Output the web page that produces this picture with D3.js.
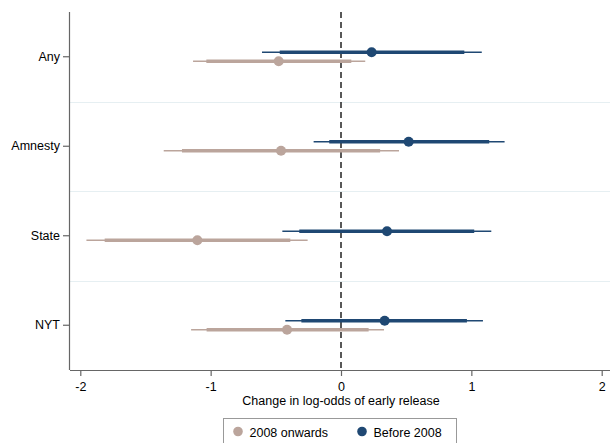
<!DOCTYPE html>
<html lang="en">
<head>
  <meta charset="UTF-8">
  <title>Coefficient plot</title>
  <style type="text/css">
    body{
      margin: 0;
      font-family: "Liberation Sans", Arial, sans-serif;
      background: white;
    }
    .axis text{
      font-size: 12.5px;
      fill: black;
    }
    .axis path,
    .axis line{
      stroke: #666;
      stroke-width: 1.2px;
    }
    .label{
      font-size: 12.5px;
      fill: black;
    }
  </style>
  <script type="text/javascript" src="https://d3js.org/d3.v7.min.js"></script>
</head>
<body>
<script type="text/javascript">
  var categories = ['Any', 'Amnesty', 'State', 'NYT'];
  var xTicks = [-2, -1, 0, 1, 2];

  // point estimates, inner (thick) and outer (thin) intervals
  var afterEst   = [-0.478, -0.46, -1.102, -0.414];
  var afterLo90  = [-1.033, -1.22, -1.813, -1.031];
  var afterHi90  = [0.079, 0.30, -0.389, 0.212];
  var afterLo95  = [-1.135, -1.36, -1.953, -1.15];
  var afterHi95  = [0.186, 0.445, -0.256, 0.33];

  var beforeEst  = [0.235, 0.519, 0.353, 0.335];
  var beforeLo90 = [-0.47, -0.09, -0.32, -0.304];
  var beforeHi90 = [0.946, 1.137, 1.022, 0.966];
  var beforeLo95 = [-0.606, -0.21, -0.45, -0.427];
  var beforeHi95 = [1.08, 1.255, 1.153, 1.089];

  var seriesNames = ['2008 onwards', 'Before 2008'];
  var colors = ['#bba59c', '#1f4873'];

  var width = 610, height = 443;
  var plotLeft = 70, plotRight = 610, plotTop = 12, plotBottom = 370;

  var svg = d3.select('body').append('svg')
    .attr('width', width)
    .attr('height', height);

  var x = d3.scaleLinear().domain([-2, 2]).range([80.3, 601.7]);
  var y = d3.scaleBand().domain(categories).range([plotTop, plotBottom]);

  // separators between categories
  svg.selectAll('.sep')
    .data(categories.slice(1))
    .enter().append('line')
    .attr('x1', plotLeft).attr('x2', plotRight)
    .attr('y1', function(d){ return Math.round(y(d)) + 0.5; })
    .attr('y2', function(d){ return Math.round(y(d)) + 0.5; })
    .style('stroke', '#e6eff2')
    .style('stroke-width', 1.2);

  // zero line
  svg.append('line')
    .attr('x1', x(0)).attr('x2', x(0))
    .attr('y1', plotTop).attr('y2', plotBottom)
    .style('stroke', '#222')
    .style('stroke-width', 1.5)
    .style('stroke-dasharray', '6,4');

  var series = [
    {name: seriesNames[1], color: colors[1], off: -4.5, est: beforeEst, lo90: beforeLo90, hi90: beforeHi90, lo95: beforeLo95, hi95: beforeHi95},
    {name: seriesNames[0], color: colors[0], off: 4.5, est: afterEst, lo90: afterLo90, hi90: afterHi90, lo95: afterLo95, hi95: afterHi95}
  ];

  series.forEach(function(s){
    var g = svg.append('g');
    var rows = categories.map(function(c, i){
      return {cat: c, est: s.est[i], lo90: s.lo90[i], hi90: s.hi90[i], lo95: s.lo95[i], hi95: s.hi95[i]};
    });
    function cy(d){ return y(d.cat) + y.bandwidth() / 2 + s.off; }

    g.selectAll('.thin').data(rows).enter().append('line')
      .attr('class', 'thin')
      .attr('x1', function(d){ return x(d.lo95); })
      .attr('x2', function(d){ return x(d.hi95); })
      .attr('y1', cy).attr('y2', cy)
      .style('stroke', s.color)
      .style('stroke-width', 1.6);

    g.selectAll('.thick').data(rows).enter().append('line')
      .attr('class', 'thick')
      .attr('x1', function(d){ return x(d.lo90); })
      .attr('x2', function(d){ return x(d.hi90); })
      .attr('y1', cy).attr('y2', cy)
      .style('stroke', s.color)
      .style('stroke-width', 3.6);

    g.selectAll('circle').data(rows).enter().append('circle')
      .attr('cx', function(d){ return x(d.est); })
      .attr('cy', cy)
      .attr('r', 5)
      .style('fill', s.color);
  });

  // axes
  var xAxis = d3.axisBottom(x).tickValues(xTicks).tickSize(6).tickSizeOuter(0)
    .tickFormat(function(d){ return d < 0 ? '-' + Math.abs(d) : d; });
  var gx = svg.append('g')
    .attr('class', 'axis')
    .attr('transform', 'translate(0,' + plotBottom + ')')
    .call(xAxis);
  gx.select('.domain').attr('d', 'M' + plotLeft + ',0.5H' + plotRight);
  gx.selectAll('text').attr('dy', '0.95em');

  var yAxis = d3.axisLeft(y).tickSize(7).tickSizeOuter(0);
  var gy = svg.append('g')
    .attr('class', 'axis')
    .attr('transform', 'translate(' + plotLeft + ',0)')
    .call(yAxis);
  gy.select('.domain').attr('d', 'M-0.5,' + plotTop + 'V' + plotBottom);
  gy.selectAll('text').attr('x', -10);

  svg.append('text')
    .attr('class', 'label')
    .attr('x', x(0))
    .attr('y', 405)
    .attr('text-anchor', 'middle')
    .text('Change in log-odds of early release');

  // legend
  svg.append('rect')
    .attr('x', 223.5).attr('y', 418.5)
    .attr('width', 233).attr('height', 40)
    .style('fill', 'white')
    .style('stroke', '#999')
    .style('stroke-width', 1);

  var legendX = [238, 362];
  [0, 1].forEach(function(i){
    svg.append('circle')
      .attr('cx', legendX[i]).attr('cy', 431.5)
      .attr('r', 4.8)
      .style('fill', colors[i]);
    svg.append('text')
      .attr('class', 'label')
      .attr('x', legendX[i] + 11.5)
      .attr('y', 436.5)
      .text(seriesNames[i]);
  });
</script>
</body>
</html>
